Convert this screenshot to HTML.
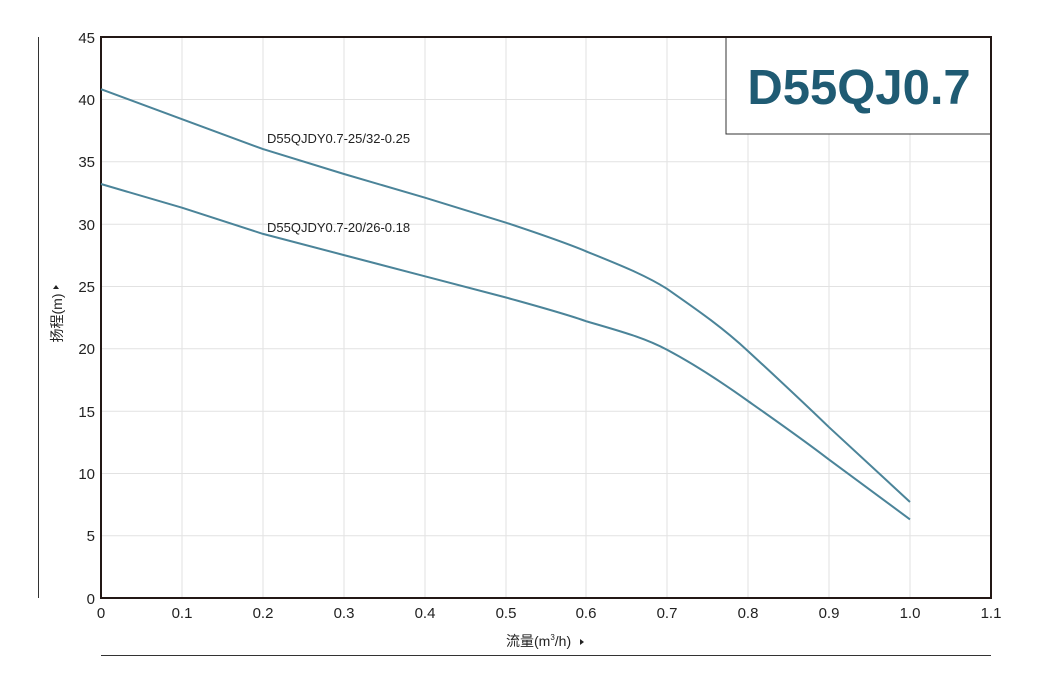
<!DOCTYPE html>
<html><head><meta charset="utf-8"><style>
body{margin:0;background:#fff;}
svg{display:block;font-family:"Liberation Sans","Noto Sans CJK SC",sans-serif;}
</style></head><body>
<svg width="1051" height="695" viewBox="0 0 1051 695">
<g stroke="#e2e2e2" stroke-width="1">
<line x1="182" y1="37" x2="182" y2="598"/><line x1="263" y1="37" x2="263" y2="598"/><line x1="344" y1="37" x2="344" y2="598"/><line x1="425" y1="37" x2="425" y2="598"/><line x1="506" y1="37" x2="506" y2="598"/><line x1="586" y1="37" x2="586" y2="598"/><line x1="667" y1="37" x2="667" y2="598"/><line x1="748" y1="37" x2="748" y2="598"/><line x1="829" y1="37" x2="829" y2="598"/><line x1="910" y1="37" x2="910" y2="598"/>
<line x1="101" y1="99.5" x2="991" y2="99.5"/><line x1="101" y1="161.8" x2="991" y2="161.8"/><line x1="101" y1="224.2" x2="991" y2="224.2"/><line x1="101" y1="286.5" x2="991" y2="286.5"/><line x1="101" y1="348.8" x2="991" y2="348.8"/><line x1="101" y1="411.2" x2="991" y2="411.2"/><line x1="101" y1="473.5" x2="991" y2="473.5"/><line x1="101" y1="535.8" x2="991" y2="535.8"/>
</g>
<rect x="726" y="37" width="265" height="97" fill="#fff" stroke="#333" stroke-width="1"/>
<text x="859" y="104" text-anchor="middle" font-size="49" font-weight="bold" fill="#1f5b73">D55QJ0.7</text>
<rect x="101" y="37" width="890" height="561" fill="none" stroke="#231815" stroke-width="2"/>
<line x1="38.5" y1="37" x2="38.5" y2="598" stroke="#333" stroke-width="1"/>
<line x1="101" y1="655.5" x2="991" y2="655.5" stroke="#333" stroke-width="1"/>
<g fill="none" stroke="#4b8499" stroke-width="2" stroke-linejoin="round">
<path d="M101,89.2 L182,119.2 L263,149.1 L344,174 L425,197.7 L506,222.7 C540,234 566,243 586,251.3 C620,265 645,275 667,288.8 C690,305 720,325 748,351.1 C775,376 805,404 829,427.2 L910,502"/>
<path d="M101,184 L182,207.7 L263,233.9 L344,255.1 L425,276.3 L506,297.5 C540,307 566,314 586,321.2 C620,331 645,338 667,349.8 C690,362 720,381 748,401 C775,420 805,441 829,459.6 L910,519.4"/>
</g>
<g font-size="13" fill="#222">
<text x="267" y="143">D55QJDY0.7-25/32-0.25</text>
<text x="267" y="232">D55QJDY0.7-20/26-0.18</text>
</g>
<g font-size="15" fill="#222" text-anchor="end">
<text x="95" y="43">45</text><text x="95" y="105">40</text><text x="95" y="167">35</text><text x="95" y="230">30</text><text x="95" y="292">25</text><text x="95" y="354">20</text><text x="95" y="417">15</text><text x="95" y="479">10</text><text x="95" y="541">5</text><text x="95" y="604">0</text>
</g>
<g font-size="15" fill="#222" text-anchor="middle">
<text x="101" y="618">0</text><text x="182" y="618">0.1</text><text x="263" y="618">0.2</text><text x="344" y="618">0.3</text><text x="425" y="618">0.4</text><text x="506" y="618">0.5</text><text x="586" y="618">0.6</text><text x="667" y="618">0.7</text><text x="748" y="618">0.8</text><text x="829" y="618">0.9</text><text x="910" y="618">1.0</text><text x="991" y="618">1.1</text>
</g>
<text x="506" y="646" font-size="14" fill="#222">流量(m<tspan font-size="8" dy="-6">3</tspan><tspan dy="6">/h)</tspan></text>
<polygon points="580,639 580,645 584,642" fill="#222"/>
<g transform="translate(62,318) rotate(-90)">
<text x="0" y="0" font-size="14" fill="#222" text-anchor="middle">扬程(m)</text>
</g>
<polygon points="53,289 59,289 56,285" fill="#222"/>
</svg>
</body></html>
